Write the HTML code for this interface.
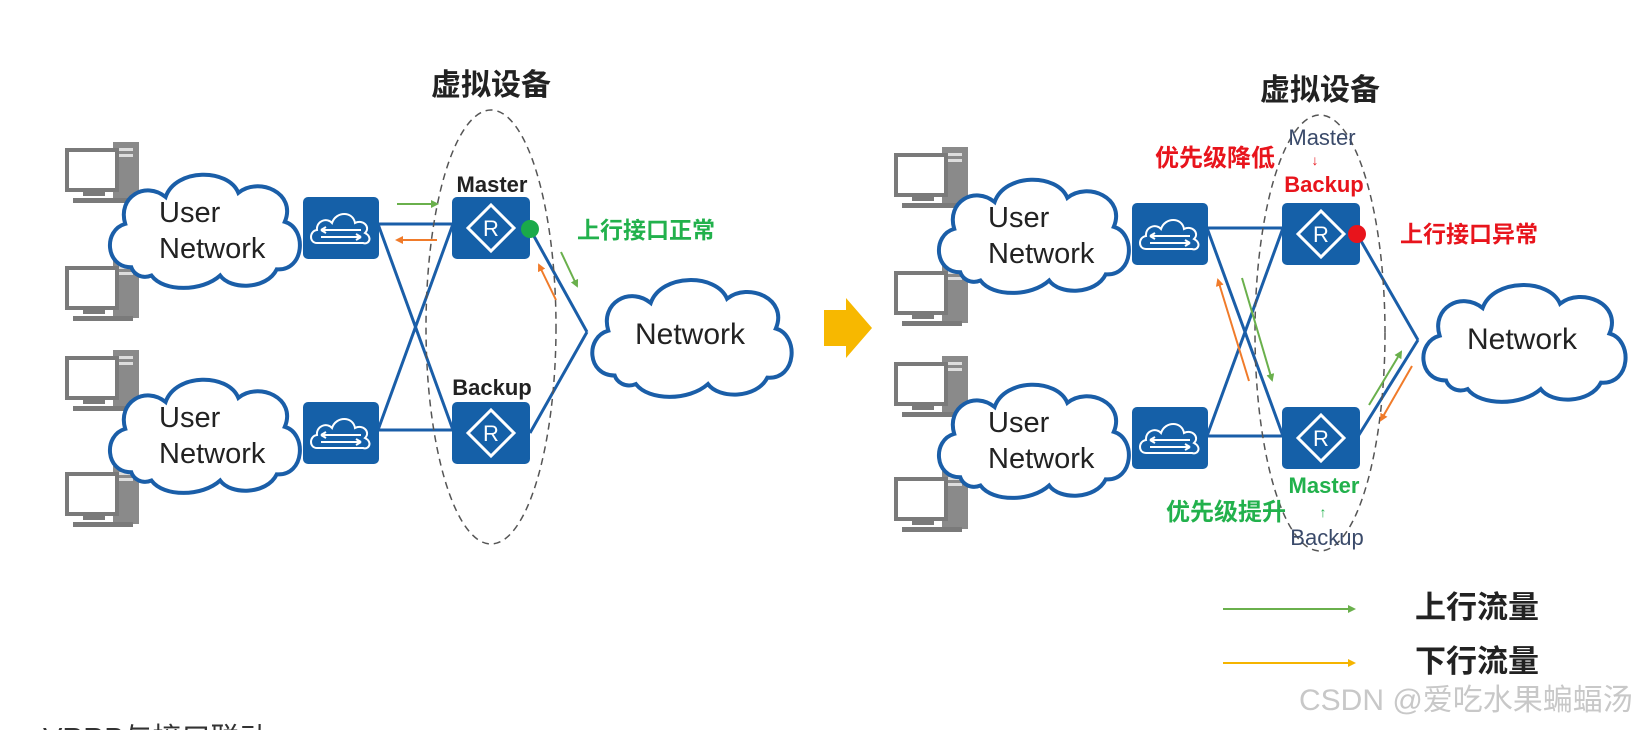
<!DOCTYPE html>
<html><head><meta charset="utf-8"><style>
html,body{margin:0;padding:0;background:#fff;}
svg{display:block;font-family:"Liberation Sans","Noto Sans CJK SC",sans-serif;}
</style></head><body>
<svg width="1645" height="730" viewBox="0 0 1645 730" xmlns="http://www.w3.org/2000/svg">
<defs>
<symbol id="cloud" viewBox="0 0 200 120" preserveAspectRatio="none">
<path d="M28,98 C2,98 0,62 22,56 C14,30 42,14 62,30 C72,2 124,2 134,26 C154,10 192,26 180,54 C202,60 200,102 172,100 C162,120 126,120 116,106 C98,122 60,122 48,106 C38,110 30,104 28,98 Z" fill="#fff" stroke="#1a5ea8" stroke-width="4" vector-effect="non-scaling-stroke"/>
</symbol>
<symbol id="pc" viewBox="0 0 78 62">
<rect x="48" y="0" width="26" height="58" fill="#8a8a8a"/>
<rect x="52" y="6" width="16" height="3" fill="#ddd"/>
<rect x="52" y="12" width="16" height="3" fill="#ddd"/>
<rect x="2" y="8" width="50" height="40" fill="#fff" stroke="#7a7a7a" stroke-width="4"/>
<rect x="18" y="50" width="22" height="4" fill="#7a7a7a"/>
<rect x="8" y="56" width="60" height="5" fill="#7a7a7a"/>
</symbol>
<symbol id="sw" viewBox="0 0 76 62">
<rect x="0" y="0" width="76" height="62" rx="5" fill="#1560a8"/>
<path d="M14,46 C6,46 6,34 14,33 C13,24 24,20 29,26 C33,14 50,14 52,26 C60,22 68,30 62,36 C70,40 66,48 60,46 Z" fill="none" stroke="#fff" stroke-width="2"/>
<path d="M18,33 H58 M18,33 l5,-3 M18,33 l5,3 M18,40 H58 M58,40 l-5,-3 M58,40 l-5,3" stroke="#fff" stroke-width="2" fill="none"/>
</symbol>
<symbol id="rt" viewBox="0 0 78 62">
<rect x="0" y="0" width="78" height="62" rx="5" fill="#1560a8"/>
<path d="M39,8 L62,31 L39,54 L16,31 Z" fill="none" stroke="#fff" stroke-width="3"/>
<text x="39" y="39" font-size="22" fill="#fff" text-anchor="middle">R</text>
</symbol>
<marker id="ag" markerWidth="8" markerHeight="8" refX="6" refY="4" orient="auto" markerUnits="userSpaceOnUse"><path d="M0,0 L8,4 L0,8 Z" fill="#6ab04c"/></marker>
<marker id="ao" markerWidth="8" markerHeight="8" refX="6" refY="4" orient="auto" markerUnits="userSpaceOnUse"><path d="M0,0 L8,4 L0,8 Z" fill="#f07b2a"/></marker>
<marker id="ay" markerWidth="8" markerHeight="8" refX="6" refY="4" orient="auto" markerUnits="userSpaceOnUse"><path d="M0,0 L8,4 L0,8 Z" fill="#f5b400"/></marker>
</defs>

<!-- LEFT PANEL -->
<text x="491" y="95" font-size="30" font-weight="bold" text-anchor="middle" fill="#222">虚拟设备</text>
<use href="#pc" x="65" y="142" width="78" height="62"/>
<use href="#pc" x="65" y="260" width="78" height="62"/>
<use href="#pc" x="65" y="350" width="78" height="62"/>
<use href="#pc" x="65" y="466" width="78" height="62"/>
<use href="#cloud" x="103" y="166" width="202" height="124"/>
<use href="#cloud" x="103" y="371" width="202" height="124"/>
<text x="159" y="222" font-size="29" fill="#222">User</text>
<text x="159" y="258" font-size="29" fill="#222">Network</text>
<text x="159" y="427" font-size="29" fill="#222">User</text>
<text x="159" y="463" font-size="29" fill="#222">Network</text>
<use href="#cloud" x="585" y="271" width="212" height="128"/>
<text x="690" y="344" font-size="30" fill="#222" text-anchor="middle">Network</text>
<g stroke="#1a5ea8" stroke-width="3" fill="none">
<line x1="378" y1="224" x2="453" y2="224"/>
<line x1="378" y1="430" x2="453" y2="430"/>
<line x1="378" y1="224" x2="453" y2="430"/>
<line x1="378" y1="430" x2="453" y2="224"/>
<line x1="530" y1="229" x2="587" y2="332"/>
<line x1="530" y1="433" x2="587" y2="332"/>
</g>
<ellipse cx="491" cy="327" rx="65" ry="217" fill="none" stroke="#555" stroke-width="1.5" stroke-dasharray="7,5"/>
<use href="#sw" x="303" y="197" width="76" height="62"/>
<use href="#sw" x="303" y="402" width="76" height="62"/>
<use href="#rt" x="452" y="197" width="78" height="62"/>
<use href="#rt" x="452" y="402" width="78" height="62"/>
<text x="492" y="192" font-size="22" font-weight="bold" fill="#222" text-anchor="middle">Master</text>
<text x="492" y="395" font-size="22" font-weight="bold" fill="#222" text-anchor="middle">Backup</text>
<circle cx="530" cy="229" r="9" fill="#1aaa4a"/>
<text x="577" y="238" font-size="23" font-weight="bold" fill="#22b14c">上行接口正常</text>
<line x1="397" y1="204" x2="437" y2="204" stroke="#6ab04c" stroke-width="2" marker-end="url(#ag)"/>
<line x1="437" y1="240" x2="397" y2="240" stroke="#f07b2a" stroke-width="2" marker-end="url(#ao)"/>
<line x1="561" y1="252" x2="577" y2="286" stroke="#6ab04c" stroke-width="2" marker-end="url(#ag)"/>
<line x1="556" y1="300" x2="539" y2="265" stroke="#f07b2a" stroke-width="2" marker-end="url(#ao)"/>

<path d="M824,310 H846 V298 L872,328 L846,358 V346 H824 Z" fill="#f7b800"/>

<!-- RIGHT PANEL -->
<text x="1320" y="100" font-size="30" font-weight="bold" text-anchor="middle" fill="#222">虚拟设备</text>
<use href="#pc" x="894" y="147" width="78" height="62"/>
<use href="#pc" x="894" y="265" width="78" height="62"/>
<use href="#pc" x="894" y="356" width="78" height="62"/>
<use href="#pc" x="894" y="471" width="78" height="62"/>
<use href="#cloud" x="932" y="171" width="202" height="124"/>
<use href="#cloud" x="932" y="376" width="202" height="124"/>
<text x="988" y="227" font-size="29" fill="#222">User</text>
<text x="988" y="263" font-size="29" fill="#222">Network</text>
<text x="988" y="432" font-size="29" fill="#222">User</text>
<text x="988" y="468" font-size="29" fill="#222">Network</text>
<use href="#cloud" x="1416" y="276" width="215" height="128"/>
<text x="1522" y="349" font-size="30" fill="#222" text-anchor="middle">Network</text>
<g stroke="#1a5ea8" stroke-width="3" fill="none">
<line x1="1207" y1="228" x2="1283" y2="228"/>
<line x1="1207" y1="436" x2="1283" y2="436"/>
<line x1="1207" y1="228" x2="1283" y2="436"/>
<line x1="1207" y1="436" x2="1283" y2="228"/>
<line x1="1357" y1="234" x2="1418" y2="340"/>
<line x1="1357" y1="438" x2="1418" y2="340"/>
</g>
<ellipse cx="1320" cy="333" rx="65" ry="218" fill="none" stroke="#555" stroke-width="1.5" stroke-dasharray="7,5"/>
<use href="#sw" x="1132" y="203" width="76" height="62"/>
<use href="#sw" x="1132" y="407" width="76" height="62"/>
<use href="#rt" x="1282" y="203" width="78" height="62"/>
<use href="#rt" x="1282" y="407" width="78" height="62"/>
<circle cx="1357" cy="234" r="9" fill="#e8141c"/>
<text x="1322" y="145" font-size="22" fill="#3a4a6a" text-anchor="middle">Master</text>
<text x="1315" y="165" font-size="14" fill="#e8141c" text-anchor="middle">↓</text>
<text x="1324" y="192" font-size="22" font-weight="bold" fill="#e8141c" text-anchor="middle">Backup</text>
<text x="1155" y="166" font-size="24" font-weight="bold" fill="#e8141c">优先级降低</text>
<text x="1400" y="242" font-size="23" font-weight="bold" fill="#e8141c">上行接口异常</text>
<text x="1324" y="493" font-size="22" font-weight="bold" fill="#22b14c" text-anchor="middle">Master</text>
<text x="1323" y="517" font-size="14" fill="#22b14c" text-anchor="middle">↑</text>
<text x="1327" y="545" font-size="22" fill="#3a4a6a" text-anchor="middle">Backup</text>
<text x="1166" y="520" font-size="24" font-weight="bold" fill="#22b14c">优先级提升</text>
<line x1="1249" y1="381" x2="1218" y2="280" stroke="#f07b2a" stroke-width="2" marker-end="url(#ao)"/>
<line x1="1242" y1="278" x2="1272" y2="380" stroke="#6ab04c" stroke-width="2" marker-end="url(#ag)"/>
<line x1="1369" y1="405" x2="1401" y2="352" stroke="#6ab04c" stroke-width="2" marker-end="url(#ag)"/>
<line x1="1412" y1="366" x2="1381" y2="420" stroke="#f07b2a" stroke-width="2" marker-end="url(#ao)"/>

<line x1="1223" y1="609" x2="1354" y2="609" stroke="#6ab04c" stroke-width="2" marker-end="url(#ag)"/>
<line x1="1223" y1="663" x2="1354" y2="663" stroke="#f5b400" stroke-width="2" marker-end="url(#ay)"/>
<text x="1415" y="618" font-size="31" font-weight="bold" fill="#222">上行流量</text>
<text x="1415" y="672" font-size="31" font-weight="bold" fill="#222">下行流量</text>

<text x="1299" y="710" font-size="30" fill="#c8c8c8">CSDN @爱吃水果蝙蝠汤</text>
<text x="43" y="748" font-size="29" fill="#333">VRRP与接口联动</text>
</svg>
</body></html>
